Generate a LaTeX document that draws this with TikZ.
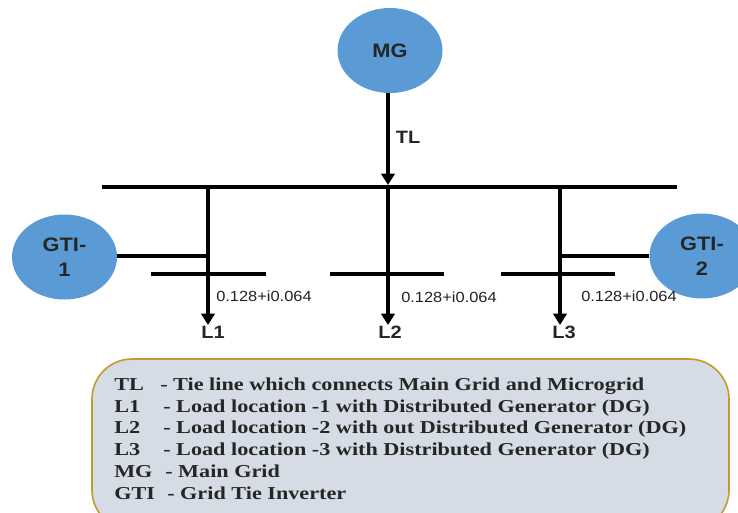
\documentclass[tikz,border=0pt]{standalone}
\usepackage{fontspec}
\setmainfont[FakeStretch=1.12]{Liberation Sans}
\newfontfamily\legendfont[FakeStretch=1.22]{Liberation Serif}
\usetikzlibrary{arrows.meta,calc,shapes.geometric}
\definecolor{blobblue}{HTML}{5B9BD5}
\definecolor{legendfill}{HTML}{D6DCE5}
\definecolor{legendline}{HTML}{C49A2C}
\definecolor{lbl}{HTML}{222222}
\newlength{\ux}\setlength{\ux}{0.75pt}
\tikzset{
  source/.style={ellipse,fill=blobblue,inner sep=0pt,minimum width=105\ux,minimum height=85\ux,align=center,font=\fontsize{14.6}{18.5}\selectfont\bfseries,text=black!85},
  wire/.style={line width=3pt,black},
  feed/.style={wire,-{Triangle[length=8.5pt,width=10pt]}},
  busbar/.style={line width=3pt,black},
  val/.style={font=\fontsize{11}{12}\selectfont,text=lbl,inner sep=0pt},
  tag/.style={font=\fontsize{13.4}{14}\selectfont\bfseries,text=black!85,inner sep=0pt},
  legend/.style={anchor=base west,inner sep=0pt,font=\legendfont\fontsize{13.65}{14}\selectfont\bfseries,text=black!85}
}
\begin{document}
\begin{tikzpicture}[x=0.75pt,y=-0.75pt]
\useasboundingbox (0,0) rectangle (738,512);
% legend panel
\begin{scope}
\clip (0,0) rectangle (738,512);
\draw[legendline,fill=legendfill,line width=1.2pt,rounded corners=30pt] (92,359) rectangle (729,530);
\end{scope}
% sources
\node[source] (mg) at (390,50.5) {MG};
\node[source] (gtia) at (64.5,257) {GTI-\\1};
\node[source] (gtib) at (702,256) {GTI-\\2};
% bus coordinates
\coordinate (mainL) at (102,187); \coordinate (mainR) at (677,187);
\coordinate (tapM) at (388,187); \coordinate (tapA) at (208,187); \coordinate (tapB) at (560,187);
\coordinate (a1) at (151,274); \coordinate (a2) at (266,274);
\coordinate (b1) at (330,274); \coordinate (b2) at (444,274);
\coordinate (c1) at (501,274); \coordinate (c2) at (615,274);
\coordinate (joinA) at (208,256); \coordinate (joinB) at (560,256);
\coordinate (endA) at (208,325); \coordinate (endM) at (388,325); \coordinate (endB) at (560,325);
\coordinate (mgfoot) at (388,93);
\draw[busbar] (mainL) -- (mainR);
\draw[busbar] (a1) -- (a2);
\draw[busbar] (b1) -- (b2);
\draw[busbar] (c1) -- (c2);
\draw[feed,shorten >=1.5pt] (mgfoot) -- (tapM);
\draw[feed] (tapA) -- (endA);
\draw[feed] (tapM) -- (endM);
\draw[feed] (tapB) -- (endB);
\draw[wire] (gtia.east |- joinA) -- (joinA);
\draw[wire] (gtib.west |- joinB) -- (joinB);
% labels
\node[tag] (tl) at (408,137) {TL};
\node[tag] (l1) at (213,332) {L1};
\node[tag] (l2) at (390,332) {L2};
\node[tag] (l3) at (564,332) {L3};
\node[val] (v1) at (264,296) {0.128+i0.064};
\node[val] (v2) at (449,297) {0.128+i0.064};
\node[val] (v3) at (629,296) {0.128+i0.064};
% legend text
\node[legend] (t1) at (114,390) {TL};
\node[legend] (d1) at (160,390) {- Tie line which connects Main Grid and Microgrid};
\node[legend] (t2) at (114,412) {L1};
\node[legend] (d2) at (163,412) {- Load location -1 with Distributed Generator (DG)};
\node[legend] (t3) at (114,433.5) {L2};
\node[legend] (d3) at (163,433.5) {- Load location -2 with out Distributed Generator (DG)};
\node[legend] (t4) at (114,455.5) {L3};
\node[legend] (d4) at (163,455.5) {- Load location -3 with Distributed Generator (DG)};
\node[legend] (t5) at (114,477) {MG};
\node[legend] (d5) at (165,477) {- Main Grid};
\node[legend] (t6) at (114,499) {GTI};
\node[legend] (d6) at (167,499) {- Grid Tie Inverter};
\end{tikzpicture}
\end{document}
